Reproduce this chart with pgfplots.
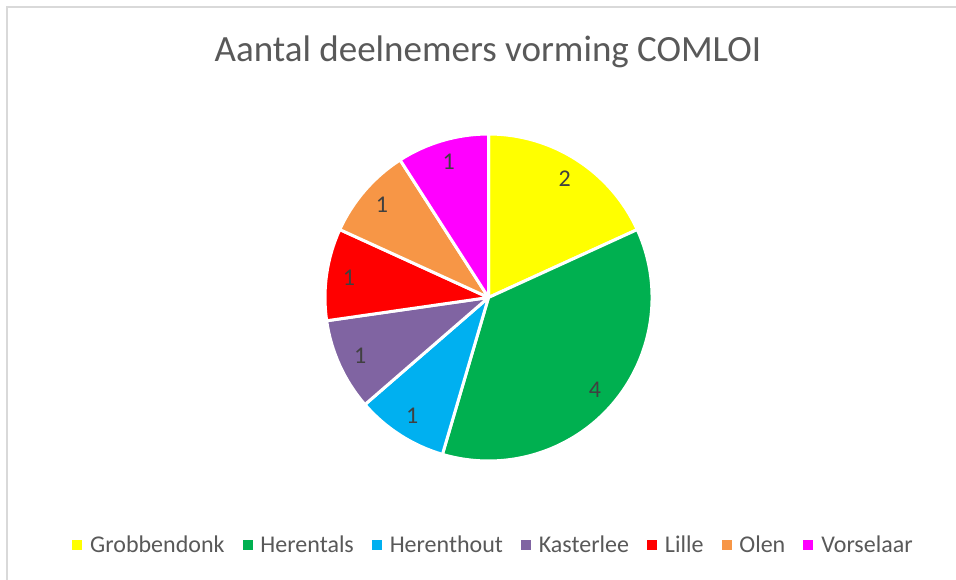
\documentclass[border=0pt]{standalone}
\usepackage{pgfplots}
\pgfplotsset{compat=1.18}
\usepackage{pgfplotstable}
\usepackage{fontspec}
\setmainfont{Carlito}
\definecolor{cGro}{HTML}{FFFF00}
\definecolor{cHer}{HTML}{00B050}
\definecolor{cHth}{HTML}{00B0F0}
\definecolor{cKas}{HTML}{8064A2}
\definecolor{cLil}{HTML}{FF0000}
\definecolor{cOle}{HTML}{F79646}
\definecolor{cVor}{HTML}{FF00FF}
\definecolor{txtgray}{HTML}{595959}
\definecolor{lblgray}{HTML}{404040}
\definecolor{framegray}{HTML}{D9D9D9}

\pgfplotstableread[col sep=comma]{
name,value,color
Grobbendonk,2,cGro
Herentals,4,cHer
Herenthout,1,cHth
Kasterlee,1,cKas
Lille,1,cLil
Olen,1,cOle
Vorselaar,1,cVor
}\piedata

\begin{document}
\begin{tikzpicture}[x=1pt,y=1pt]
\useasboundingbox (0,0) rectangle (956,579);
\fill[white] (0,0) rectangle (956,579);
\draw[framegray, line width=1.5] (7,-5) -- (7,572) -- (965,572);
\node[font=\fontsize{37}{44}\selectfont, text=txtgray] at (488,527) {Aantal deelnemers vorming COMLOI};
\pgfplotstablegetrowsof{\piedata}
\pgfmathtruncatemacro{\nrows}{\pgfplotsretval-1}
\def\total{0}
\pgfplotsforeachungrouped \i in {0,...,\nrows}{%
  \pgfplotstablegetelem{\i}{value}\of\piedata
  \pgfmathsetmacro{\total}{\total+\pgfplotsretval}%
}
\begin{axis}[
  at={(488.5,281.5)}, anchor=origin,
  x=1pt, y=1pt,
  xmin=-170, xmax=170, ymin=-170, ymax=170,
  hide axis, clip=false,
  legend columns=7,
  legend style={draw=none, fill=none, at={(axis cs:5,-247.5)}, anchor=center,
    font=\fontsize{24}{28}\selectfont, nodes={text=txtgray},
    /tikz/every odd column/.append style={column sep=6.5pt},
    /tikz/every even column/.append style={column sep=16pt}},
]
\def\startang{90}
\pgfplotsforeachungrouped \i in {0,...,\nrows}{%
  \pgfplotstablegetelem{\i}{value}\of\piedata \let\val\pgfplotsretval
  \pgfplotstablegetelem{\i}{color}\of\piedata \let\col\pgfplotsretval
  \pgfmathsetmacro{\endang}{\startang-360*\val/\total}%
  \pgfmathsetmacro{\midang}{(\startang+\endang)/2}%
  \pgfmathsetmacro{\xs}{163.5*cos(\startang)}%
  \pgfmathsetmacro{\ys}{163.5*sin(\startang)}%
  \pgfmathsetmacro{\xl}{141*cos(\midang)}%
  \pgfmathsetmacro{\yl}{141*sin(\midang)}%
  \edef\temp{\noexpand\fill[\col, draw=white, line width=3pt, line join=round] (axis cs:0,0) -- (axis cs:\xs,\ys) arc[start angle=\startang, end angle=\endang, radius=163.5pt] -- cycle;
    \noexpand\node[text=lblgray, font=\noexpand\fontsize{24}{28}\noexpand\selectfont] at (axis cs:\xl,\yl) {\val};}%
  \temp
  \let\startang\endang
}
\addlegendimage{legend image code/.code={\fill[cGro] (0pt,-4.5pt) rectangle (9pt,4.5pt);}}
\addlegendimage{legend image code/.code={\fill[cHer] (0pt,-4.5pt) rectangle (9pt,4.5pt);}}
\addlegendimage{legend image code/.code={\fill[cHth] (0pt,-4.5pt) rectangle (9pt,4.5pt);}}
\addlegendimage{legend image code/.code={\fill[cKas] (0pt,-4.5pt) rectangle (9pt,4.5pt);}}
\addlegendimage{legend image code/.code={\fill[cLil] (0pt,-4.5pt) rectangle (9pt,4.5pt);}}
\addlegendimage{legend image code/.code={\fill[cOle] (0pt,-4.5pt) rectangle (9pt,4.5pt);}}
\addlegendimage{legend image code/.code={\fill[cVor] (0pt,-4.5pt) rectangle (9pt,4.5pt);}}
\legend{Grobbendonk,Herentals,Herenthout,Kasterlee,Lille,Olen,Vorselaar}
\end{axis}
\end{tikzpicture}
\end{document}
